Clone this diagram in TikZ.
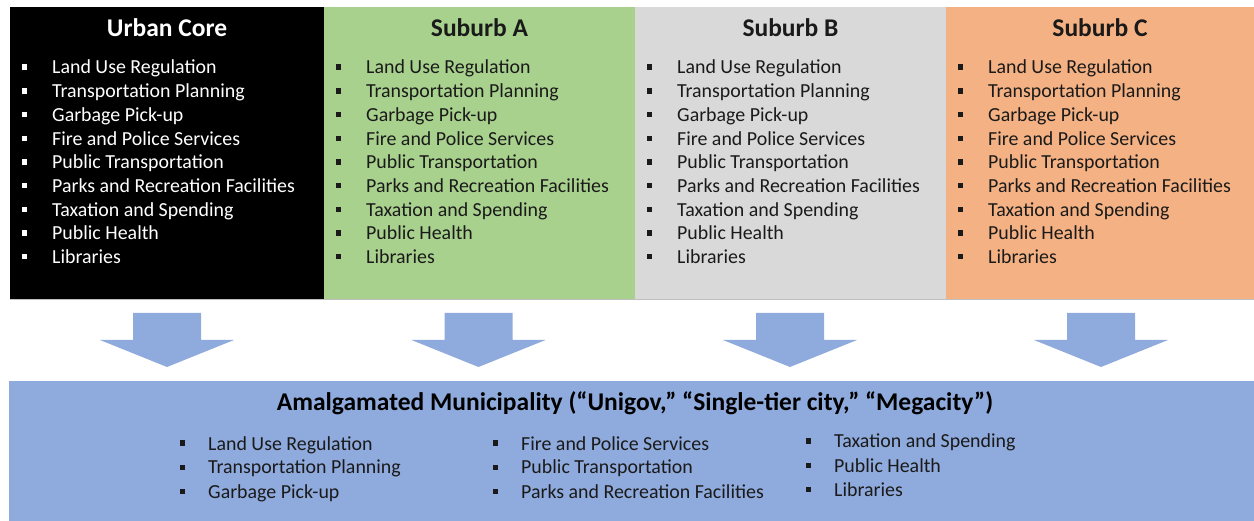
\documentclass[tikz,border=0pt]{standalone}
\usepackage{fontspec}
\setmainfont{Carlito}
\definecolor{subgreen}{HTML}{A9D18E}
\definecolor{subgrey}{HTML}{D9D9D9}
\definecolor{suborange}{HTML}{F4B183}
\definecolor{amalblue}{HTML}{8FAADC}
\definecolor{inktext}{HTML}{1A1A1A}
\definecolor{edgegrey}{HTML}{BFBFBF}
\begin{document}
\begin{tikzpicture}[x=1pt,y=-1pt,
  panel/.style={inner sep=0pt, outer sep=0pt, draw=none, anchor=north west, minimum height=292pt},
  paneltitle/.style={inner sep=0pt, anchor=base, font=\bfseries\fontsize{25.5}{30}\selectfont},
  item/.style={inner sep=0pt, anchor=base west, font=\fontsize{19.9}{24}\selectfont},
  blockarrow/.style={fill=amalblue}]
\useasboundingbox (0,0) rectangle (1254,521);
\def\serviceslist{Land Use Regulation, Transportation Planning, Garbage Pick-up,
  Fire and Police Services, Public Transportation, Parks and Recreation Facilities,
  Taxation and Spending, Public Health, Libraries}

% the four jurisdictions, each with its own full set of services
\foreach \px/\pw/\cx/\name/\col/\ink/\ttl in
  {10/314/167/core/black/white/Urban Core,
   324/311/479.5/suba/subgreen/inktext/Suburb A,
   635/311/790.5/subb/subgrey/inktext/Suburb B,
   946/308/1100/subc/suborange/inktext/Suburb C}{
  \node[panel, fill=\col, minimum width=\pw pt] (\name) at (\px,7) {};
  \node[paneltitle, text=\ink] (\name-title) at (\cx,37) {\ttl};
  \foreach \t [count=\i] in \serviceslist {
    \node[item, text=\ink] (\name-\i) at ({\px+42},{74+(\i-1)*23.7}) {\t};
    \fill[\ink] ({\px+14-2.5},{74+(\i-1)*23.7-9.5}) rectangle ++(5,5.4);
  }
}
\draw[edgegrey, line width=1.2pt] (10,299.5) -- (1254,299.5);

% block arrows pointing down to the merged city
\foreach \ax [count=\k] in {167,478.5,790,1101}{
  \fill[blockarrow] ({\ax-34},313) -- ({\ax+34},313) -- ({\ax+34},340) -- ({\ax+67},340)
    -- (\ax,367) -- ({\ax-67},340) -- ({\ax-34},340) -- cycle;
}

% the amalgamated municipality
\node[inner sep=0pt, outer sep=0pt, anchor=north west, fill=amalblue,
  minimum width=1245pt, minimum height=140pt] (amal) at (9,381) {};
\node[paneltitle, text=black] (amal-title) at (635,411)
  {Amalgamated Municipality (“Unigov,” “Single-tier city,” “Megacity”)};
\foreach \t/\tx/\by [count=\i] in
  {Land Use Regulation/208/450, Transportation Planning/208/474, Garbage Pick-up/208/498,
   Fire and Police Services/521/450, Public Transportation/521/474,
   Parks and Recreation Facilities/521/498,
   Taxation and Spending/834/448, Public Health/834/472, Libraries/834/496}{
  \node[item, text=inktext] (amal-\i) at (\tx,\by) {\t};
  \fill[inktext] ({\tx-26-2.5},{\by-9.5}) rectangle ++(5,5.4);
}
\end{tikzpicture}
\end{document}
